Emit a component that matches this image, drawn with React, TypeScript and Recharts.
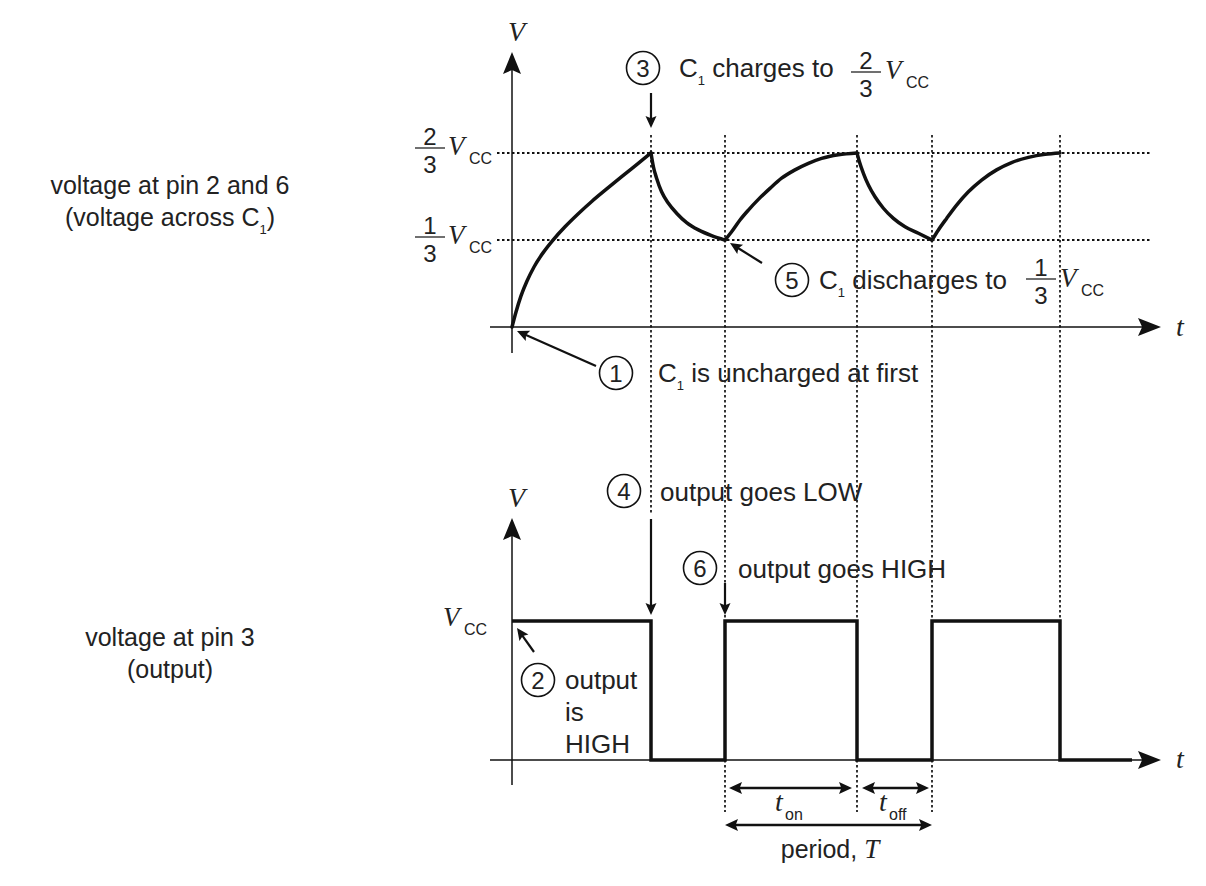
import { LineChart, Line, XAxis, YAxis, ReferenceLine } from 'recharts'

// time in arbitrary units, 0 = supply switched on
// moments where the comparators flip (peak / trough of the capacitor voltage)
const switchTimes = [6.95, 10.65, 17.25, 21.0, 27.4]
const thresholds = [1 / 3, 2 / 3]

// capacitor voltage (fraction of Vcc)
const charge1T = [0, 0.2, 0.45, 0.75, 1.1, 1.55, 2.05, 2.65, 3.3, 4.0, 4.75, 5.5, 6.25, 6.95]
const charge1V = [0, 0.0575, 0.119, 0.176, 0.23, 0.284, 0.333, 0.384, 0.433, 0.482, 0.53, 0.577, 0.6235, 0.667]
const discharge1T = [6.95, 7.07, 7.23, 7.48, 7.82, 8.23, 8.73, 9.32, 9.98, 10.65]
const discharge1V = [0.667, 0.614, 0.57, 0.518, 0.474, 0.436, 0.4, 0.372, 0.35, 0.333]
const charge2T = [10.65, 10.98, 11.4, 11.82, 12.32, 12.9, 13.48, 14.15, 14.82, 15.48, 16.32, 17.25]
const charge2V = [0.333, 0.365, 0.41, 0.448, 0.489, 0.531, 0.57, 0.602, 0.627, 0.646, 0.66, 0.667]
const discharge2T = [17.25, 17.37, 17.57, 17.82, 18.15, 18.57, 19.07, 19.65, 20.32, 21.0]
const discharge2V = [0.667, 0.633, 0.589, 0.544, 0.499, 0.455, 0.416, 0.384, 0.359, 0.333]
const charge3T = [21.0, 21.32, 21.73, 22.23, 22.82, 23.48, 24.23, 24.98, 25.82, 26.65, 27.4]
const charge3V = [0.333, 0.372, 0.416, 0.467, 0.518, 0.563, 0.602, 0.63, 0.65, 0.662, 0.667]

// output pin 3 (fraction of Vcc), held until the next time
const outputT = [0, 6.95, 10.65, 17.25, 21.0, 27.4, 31.0]
const outputV = [1, 0, 1, 0, 1, 0, 0]

const toRows = (ts: number[], vs: number[]) => ts.map((t, i) => ({ t, v: vs[i] }))
const capSegments = [
  toRows(charge1T, charge1V),
  toRows(discharge1T, discharge1V),
  toRows(charge2T, charge2V),
  toRows(discharge2T, discharge2V),
  toRows(charge3T, charge3V),
]
const outputRows = toRows(outputT, outputV)

// layout
const W = 1206
const H = 886
const M = { top: 50, right: 44, bottom: 36, left: 486 }
const X_DOMAIN: [number, number] = [-1.3, 32.5]
const CAP_ZERO = 327 // row of 0 V, upper panel
const CAP_UNIT = 261 // px per Vcc, upper panel
const OUT_ZERO = 760
const OUT_UNIT = 139
const capDomain: [number, number] = [(CAP_ZERO - (H - M.bottom)) / CAP_UNIT, (CAP_ZERO - M.top) / CAP_UNIT]
const outDomain: [number, number] = [(OUT_ZERO - (H - M.bottom)) / OUT_UNIT, (OUT_ZERO - M.top) / OUT_UNIT]

const tx = (t: number) => M.left + ((t - X_DOMAIN[0]) * (W - M.left - M.right)) / (X_DOMAIN[1] - X_DOMAIN[0])
const capAt = (row: number) => (CAP_ZERO - row) / CAP_UNIT
const outAt = (row: number) => (OUT_ZERO - row) / OUT_UNIT

// how far each dotted event line runs (rows)
const guideTop = 135
const guideBottoms = [515, 812, 812, 812, 618]

const INK = '#111'
const TXT = '#222'
const SANS = '"Liberation Sans", Arial, sans-serif'
const SERIF = '"Liberation Serif", "Times New Roman", serif'

function Head({ x, y, dx, dy, len = 12, half = 5.5 }: { x: number; y: number; dx: number; dy: number; len?: number; half?: number }) {
  const d = Math.hypot(dx, dy)
  const ux = dx / d
  const uy = dy / d
  const bx = x - ux * len
  const by = y - uy * len
  const nx = -uy * half
  const ny = ux * half
  const notch = len * 0.18
  return (
    <polygon
      points={`${x},${y} ${bx + nx},${by + ny} ${bx + ux * notch},${by + uy * notch} ${bx - nx},${by - ny}`}
      fill={INK}
    />
  )
}

function Arrow({ x1, y1, x2, y2, w = 2.2 }: { x1: number; y1: number; x2: number; y2: number; w?: number }) {
  const d = Math.hypot(x2 - x1, y2 - y1)
  const ux = (x2 - x1) / d
  const uy = (y2 - y1) / d
  return (
    <g>
      <line x1={x1} y1={y1} x2={x2 - ux * 8} y2={y2 - uy * 8} stroke={INK} strokeWidth={w} />
      <Head x={x2} y={y2} dx={x2 - x1} dy={y2 - y1} />
    </g>
  )
}

function DoubleArrow({ x1, x2, y }: { x1: number; x2: number; y: number }) {
  return (
    <g>
      <line x1={x1 + 8} y1={y} x2={x2 - 8} y2={y} stroke={INK} strokeWidth={2.5} />
      <Head x={x1} y={y} dx={-1} dy={0} len={13} half={6} />
      <Head x={x2} y={y} dx={1} dy={0} len={13} half={6} />
    </g>
  )
}

function Num({ cx, cy, n }: { cx: number; cy: number; n: string }) {
  return (
    <g>
      <circle cx={cx} cy={cy} r={16.5} fill="none" stroke={INK} strokeWidth={1.6} />
      <text x={cx} y={cy + 8.5} textAnchor="middle" fontSize={24} fontFamily={SANS} fill={TXT}>
        {n}
      </text>
    </g>
  )
}

function Frac({ cx, bar, num, den }: { cx: number; bar: number; num: string; den: string }) {
  return (
    <g fontFamily={SANS} fontSize={24} fill={TXT}>
      <text x={cx} y={bar - 3} textAnchor="middle">{num}</text>
      <line x1={cx - 15} y1={bar} x2={cx + 15} y2={bar} stroke={TXT} strokeWidth={1.3} />
      <text x={cx} y={bar + 25} textAnchor="middle">{den}</text>
    </g>
  )
}

function Vcc({ x, y }: { x: number; y: number }) {
  return (
    <g fill={TXT}>
      <text x={x} y={y} fontFamily={SERIF} fontStyle="italic" fontSize={27}>V</text>
      <text x={x + 21} y={y + 9} fontFamily={SANS} fontSize={16}>CC</text>
    </g>
  )
}

function C1() {
  return (
    <>
      C<tspan fontSize={13} dy={8}>1</tspan>
      <tspan dy={-8}> </tspan>
    </>
  )
}

function Overlay() {
  return (
    <svg width={W} height={H} style={{ position: 'absolute', left: 0, top: 0, pointerEvents: 'none' }}>
      {/* left captions */}
      <g fontFamily={SANS} fontSize={25} fill={TXT} textAnchor="middle">
        <text x={170} y={194}>voltage at pin 2 and 6</text>
        <text x={170} y={226}>
          (voltage across C<tspan fontSize={13} dy={8}>1</tspan>
          <tspan dy={-8}>)</tspan>
        </text>
        <text x={170} y={646}>voltage at pin 3</text>
        <text x={170} y={678}>(output)</text>
      </g>

      {/* axis arrow heads and names */}
      <Head x={tx(0)} y={52} dx={0} dy={-1} len={22} half={9} />
      <Head x={1161} y={CAP_ZERO} dx={1} dy={0} len={23} half={9} />
      <Head x={tx(0)} y={518} dx={0} dy={-1} len={22} half={9} />
      <Head x={1161} y={OUT_ZERO} dx={1} dy={0} len={23} half={9} />
      <g fontFamily={SERIF} fontStyle="italic" fontSize={28} fill={TXT}>
        <text x={508} y={41}>V</text>
        <text x={508} y={507}>V</text>
        <text x={1176} y={336}>t</text>
        <text x={1176} y={768}>t</text>
      </g>

      {/* level labels */}
      <Frac cx={430} bar={148} num="2" den="3" />
      <Vcc x={448} y={155} />
      <Frac cx={430} bar={237} num="1" den="3" />
      <Vcc x={448} y={244} />
      <Vcc x={443} y={626} />

      {/* callouts */}
      <g fontFamily={SANS} fontSize={26} fill={TXT}>
        <Num cx={643} cy={68} n="3" />
        <text x={679} y={77}>
          <C1 />charges to
        </text>
        <Frac cx={866} bar={72} num="2" den="3" />
        <Vcc x={885} y={79} />
        <Arrow x1={tx(switchTimes[0])} y1={93} x2={tx(switchTimes[0])} y2={128} />

        <Num cx={792} cy={280} n="5" />
        <text x={819} y={289}>
          <C1 />discharges to
        </text>
        <Frac cx={1041} bar={279} num="1" den="3" />
        <Vcc x={1060} y={287} />
        <Arrow x1={762} y1={263} x2={tx(switchTimes[1]) + 5} y2={243} />

        <Num cx={616} cy={373} n="1" />
        <text x={658} y={382}>
          <C1 />is uncharged at first
        </text>
        <Arrow x1={596} y1={366} x2={tx(0) + 5} y2={331} />

        <Num cx={624} cy={491} n="4" />
        <text x={660} y={501}>output goes LOW</text>
        <Arrow x1={tx(switchTimes[0])} y1={519} x2={tx(switchTimes[0])} y2={615} />

        <Num cx={700} cy={568} n="6" />
        <text x={738} y={578}>output goes HIGH</text>
        <Arrow x1={tx(switchTimes[1])} y1={583} x2={tx(switchTimes[1])} y2={615} />

        <Num cx={538} cy={680} n="2" />
        <text x={565} y={689}>output</text>
        <text x={565} y={721}>is</text>
        <text x={565} y={753}>HIGH</text>
        <Arrow x1={534} y1={652} x2={tx(0) + 5} y2={628} />
      </g>

      {/* timing */}
      <DoubleArrow x1={tx(switchTimes[1]) + 4} x2={tx(switchTimes[2]) - 5} y={788} />
      <DoubleArrow x1={tx(switchTimes[2]) + 5} x2={tx(switchTimes[3]) - 3} y={788} />
      <DoubleArrow x1={tx(switchTimes[1])} x2={tx(switchTimes[3])} y={825} />
      <g fill={TXT}>
        <text x={775} y={811} fontFamily={SERIF} fontStyle="italic" fontSize={28}>t</text>
        <text x={785} y={820} fontFamily={SANS} fontSize={16}>on</text>
        <text x={879} y={811} fontFamily={SERIF} fontStyle="italic" fontSize={28}>t</text>
        <text x={889} y={820} fontFamily={SANS} fontSize={16}>off</text>
        <text x={830} y={858} textAnchor="middle" fontFamily={SANS} fontSize={25}>
          period, <tspan fontFamily={SERIF} fontStyle="italic" fontSize={27}>T</tspan>
        </text>
      </g>
    </svg>
  )
}

export default function App() {
  return (
    <div style={{ position: 'absolute', left: 0, top: 0, width: W, height: H, background: '#fff' }}>
      <LineChart width={W} height={H} margin={M}>
        <XAxis type="number" dataKey="t" domain={X_DOMAIN} allowDataOverflow hide />
        <YAxis yAxisId="cap" type="number" domain={capDomain} allowDataOverflow hide />
        <YAxis yAxisId="out" type="number" domain={outDomain} allowDataOverflow hide />

        {/* axes */}
        <ReferenceLine yAxisId="cap" segment={[{ x: -1.1, y: 0 }, { x: 31.9, y: 0 }]} stroke={INK} strokeWidth={1.5} ifOverflow="visible" />
        <ReferenceLine yAxisId="cap" segment={[{ x: 0, y: capAt(353) }, { x: 0, y: capAt(70) }]} stroke={INK} strokeWidth={1.5} ifOverflow="visible" />
        <ReferenceLine yAxisId="out" segment={[{ x: -1.1, y: 0 }, { x: 31.9, y: 0 }]} stroke={INK} strokeWidth={1.5} ifOverflow="visible" />
        <ReferenceLine yAxisId="out" segment={[{ x: 0, y: outAt(785) }, { x: 0, y: outAt(536) }]} stroke={INK} strokeWidth={1.5} ifOverflow="visible" />

        {/* threshold levels */}
        {thresholds.map((v) => (
          <ReferenceLine
            key={v}
            yAxisId="cap"
            segment={[{ x: -0.75, y: v }, { x: 31.9, y: v }]}
            stroke={INK}
            strokeWidth={1.8}
            strokeDasharray="2.5 2.5"
            ifOverflow="visible"
          />
        ))}

        {/* event guides through both panels */}
        {switchTimes.map((t, i) => (
          <ReferenceLine
            key={t}
            yAxisId="out"
            segment={[{ x: t, y: outAt(guideTop) }, { x: t, y: outAt(guideBottoms[i]) }]}
            stroke={INK}
            strokeWidth={1.7}
            strokeDasharray="2.5 2.5"
            ifOverflow="visible"
          />
        ))}

        {capSegments.map((rows, i) => (
          <Line
            key={i}
            yAxisId="cap"
            data={rows}
            dataKey="v"
            type="monotone"
            stroke={INK}
            strokeWidth={3.5}
            strokeLinecap="round"
            dot={false}
            activeDot={false}
            isAnimationActive={false}
          />
        ))}
        <Line
          yAxisId="out"
          data={outputRows}
          dataKey="v"
          type="stepAfter"
          stroke={INK}
          strokeWidth={3.5}
          strokeLinejoin="miter"
          dot={false}
          activeDot={false}
          isAnimationActive={false}
        />
      </LineChart>
      <Overlay />
    </div>
  )
}
